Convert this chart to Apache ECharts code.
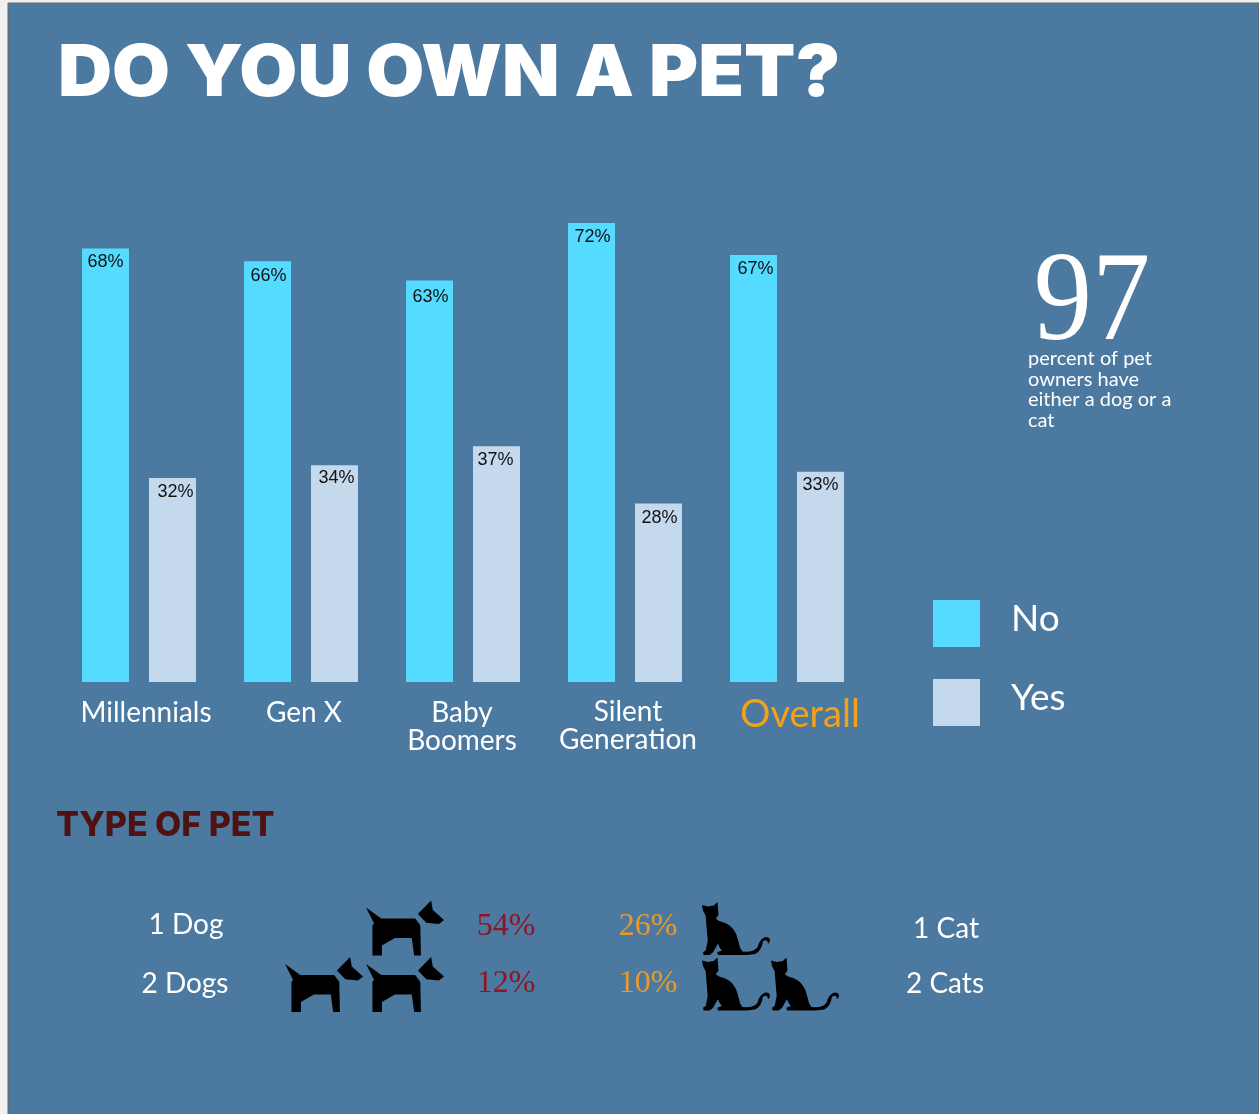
<!DOCTYPE html>
<html>
<head>
<meta charset="utf-8">
<style>
  html, body { margin: 0; padding: 0; background: #f0f0f0; }
  #chart { width: 1259px; height: 1114px; }
</style>
<script src="https://cdn.jsdelivr.net/npm/echarts@6/dist/echarts.min.js"></script>
</head>
<body>
<div id="chart"></div>
<script>
// Pet ownership by generation, percent of respondents
const categories = ['Millennials', 'Gen X', 'Baby Boomers', 'Silent Generation', 'Overall'];
const noValues = [68, 66, 63, 72, 67];
const yesValues = [32, 34, 37, 28, 33];

// Type of pet: how many animals each row shows and the share it stands for
const dogRows = ['1 Dog', '2 Dogs'];
const dogCounts = [1, 2];
const dogShares = [54, 12];
const catRows = ['1 Cat', '2 Cats'];
const catCounts = [1, 2];
const catShares = [26, 10];

// Hand placement of the value labels inside their bars, [dx, dy]
const noLabelNudge = [[0, 0], [1, 1], [1, 3], [1, 0], [2, 0]];
const yesLabelNudge = [[3, 0], [2, -1], [-1, 0], [1, 1], [0, -1]];

const SANS = 'Lato, "Open Sans", sans-serif';
const HEAVY = 'Inter, Lato, sans-serif';
const SERIF = '"Liberation Serif", serif';
const PANEL = '#4c799f';
const CYAN = '#55dbff';
const PALE = '#c5d9ec';

const dogPath = 'path://M290 53L335 85L435 85L450 105L452 195L432 195L425 143L375 143L337 165L337 195L309 195L309 105L314 100Z' +
  'M482 32L487 60L520 90L505 102L468 98L443 72Z';
const catPath = 'path://M37 46L55 50L72 47L83 37L86 75L78 86L88 93Q124 100 138 130Q146 152 150 172L157 183' +
  'Q190 186 202 170Q208 145 226 140Q240 140 239 152L234 160L231 152Q226 146 218 153Q214 180 195 190L170 193L85 193L82 185L96 180' +
  'L90 172L84 160L70 185L60 193L42 193L40 185L48 180L54 150L50 105L48 78L40 62Z';

// Turn a per-row count into one point per animal
function iconPoints(counts) {
  const pts = [];
  counts.forEach((n, row) => { for (let i = 0; i < n; i++) pts.push([i, row]); });
  return pts;
}

function barData(values, nudges) {
  return values.map((v, i) => ({ value: v, label: { offset: nudges[i] } }));
}

function text(str, x, y, size, color, extra, transform) {
  return Object.assign({
    type: 'text', x, y, z: 10,
    style: Object.assign({
      text: str, fill: color, fontSize: size, fontFamily: SANS,
      align: 'center', verticalAlign: 'middle'
    }, extra || {})
  }, transform || {});
}

const valueLabel = {
  show: true, position: 'insideTop', distance: 5, formatter: '{c}%',
  color: '#111', fontFamily: '"Liberation Sans", sans-serif', fontSize: 18
};

const categoryLabels = [
  text('Millennials', 146, 713, 28, '#fff'),
  text('Gen X', 304, 713, 28, '#fff'),
  text('Baby\nBoomers', 462, 727, 28, '#fff', { lineHeight: 28 }),
  text('Silent\nGeneration', 628, 725.5, 28, '#fff', { lineHeight: 28 }),
  text('Overall', 800, 715, 38, '#f0a218')
];

const chart = echarts.init(document.getElementById('chart'));
chart.setOption({
  animation: false,
  backgroundColor: 'transparent',
  graphic: [
    {
      type: 'rect', z: -10,
      shape: { x: 8, y: 3, width: 1251, height: 1111 },
      style: { fill: PANEL, stroke: '#666', lineWidth: 1 }
    },
    ...categoryLabels,
    text('DO YOU OWN A PET?', 58, 74, 72, '#fff', { align: 'left', fontFamily: HEAVY, fontWeight: 900 }, { scaleX: 1.04 }),
    text('97', 1092, 305, 128, '#fff', { fontFamily: SERIF }, { scaleX: 0.91 }),
    text('percent of pet\nowners have\neither a dog or a\ncat', 1028, 389.5, 20, '#fff', { align: 'left', lineHeight: 20.4 }),
    text('TYPE OF PET', 56, 826, 34, '#4f1212', { align: 'left', fontFamily: HEAVY, fontWeight: 800 }),
    text(dogRows[0], 186, 925, 28, '#fff'),
    text(dogRows[1], 185, 984, 28, '#fff'),
    text(dogShares[0] + '%', 506, 927, 32, '#8f1524', { fontFamily: SERIF }),
    text(dogShares[1] + '%', 506, 984, 32, '#8f1524', { fontFamily: SERIF }),
    text(catShares[0] + '%', 648, 927, 32, '#e89a2c', { fontFamily: SERIF }),
    text(catShares[1] + '%', 648, 984, 32, '#e89a2c', { fontFamily: SERIF }),
    text(catRows[0], 946, 929, 28, '#fff'),
    text(catRows[1], 945, 984, 28, '#fff')
  ],
  legend: {
    orient: 'vertical', left: 933, top: 600, padding: 0,
    itemWidth: 47, itemHeight: 47, itemGap: 32,
    icon: 'rect',
    data: ['No', 'Yes'],
    formatter: name => '{t|' + name + '}',
    textStyle: {
      padding: [0, 0, 0, 0],
      rich: { t: { color: '#fff', fontFamily: SANS, fontSize: 37, padding: [0, 0, 8, 26] } }
    }
  },
  grid: [
    { left: 58, width: 810, top: 172, height: 510 },
    { left: 324, width: 81, top: 928, height: 56.5 },
    { left: 736, width: 69, top: 928.5, height: 55.5 }
  ],
  xAxis: [
    { type: 'category', gridIndex: 0, data: categories, show: false },
    { type: 'value', gridIndex: 1, min: 0, max: 1, inverse: true, show: false },
    { type: 'value', gridIndex: 2, min: 0, max: 1, show: false }
  ],
  yAxis: [
    { type: 'value', gridIndex: 0, min: 0, max: 80, show: false },
    { type: 'value', gridIndex: 1, min: 0, max: 1, inverse: true, show: false },
    { type: 'value', gridIndex: 2, min: 0, max: 1, inverse: true, show: false }
  ],
  series: [
    {
      name: 'No', type: 'bar', data: barData(noValues, noLabelNudge), barWidth: 47, barGap: '42.5%',
      itemStyle: { color: CYAN }, label: valueLabel
    },
    {
      name: 'Yes', type: 'bar', data: barData(yesValues, yesLabelNudge), barWidth: 47,
      itemStyle: { color: PALE }, label: valueLabel
    },
    {
      name: 'Dogs', type: 'scatter', xAxisIndex: 1, yAxisIndex: 1, clip: false, silent: true,
      data: iconPoints(dogCounts), symbol: dogPath, symbolSize: [78, 55],
      itemStyle: { color: '#000', opacity: 1 }
    },
    {
      name: 'Cats', type: 'scatter', xAxisIndex: 2, yAxisIndex: 2, clip: false, silent: true,
      data: iconPoints(catCounts), symbol: catPath, symbolSize: [68, 53],
      itemStyle: { color: '#000', opacity: 1 }
    }
  ]
});
</script>
</body>
</html>
